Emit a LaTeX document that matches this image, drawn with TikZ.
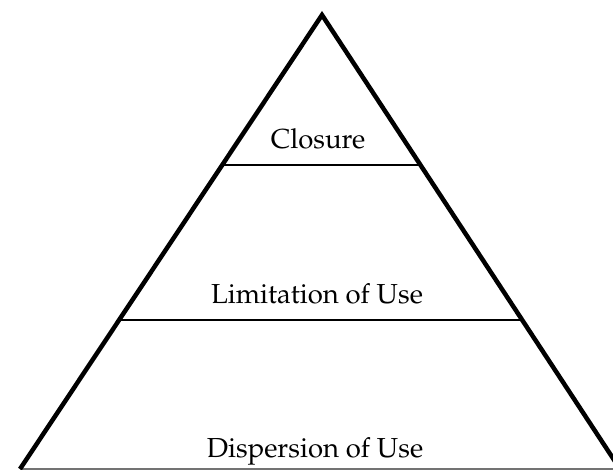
\documentclass[tikz,border=0pt]{standalone}
\usepackage[T1]{fontenc}
\renewcommand{\rmdefault}{ppl}
\begin{document}
\begin{tikzpicture}[x=1pt,y=-1pt,
  side/.style={line width=4.5pt,line join=miter},
  tier/.style={line width=2.8pt},
  baseline rule/.style={line width=1.8pt,draw=black!55},
  label/.style={anchor=base,inner sep=0pt,font=\fontsize{27.5}{32}\selectfont}]
\useasboundingbox (0,0) rectangle (613,470);
\clip (0,0) rectangle (613,470);
% corners of the pyramid
\coordinate (top) at (322,15);
\coordinate (bl) at (20,469);
\coordinate (br) at (620,469);
% ends of the two dividing lines
\coordinate (u1) at (222,165);
\coordinate (u2) at (420,165);
\coordinate (m1) at (119,320);
\coordinate (m2) at (522,320);
% base and tiers
\draw[baseline rule] (bl) -- (br);
\draw[tier] (u1) -- (u2);
\draw[tier] (m1) -- (m2);
\draw[side] (bl) -- (top) -- (br);
% tier labels
\node[label] (closure) at (318,149) {Closure};
\node[label] (limitation) at (317,304) {Limitation of Use};
\node[label] (dispersion) at (315,457) {Dispersion of Use};
\end{tikzpicture}
\end{document}
